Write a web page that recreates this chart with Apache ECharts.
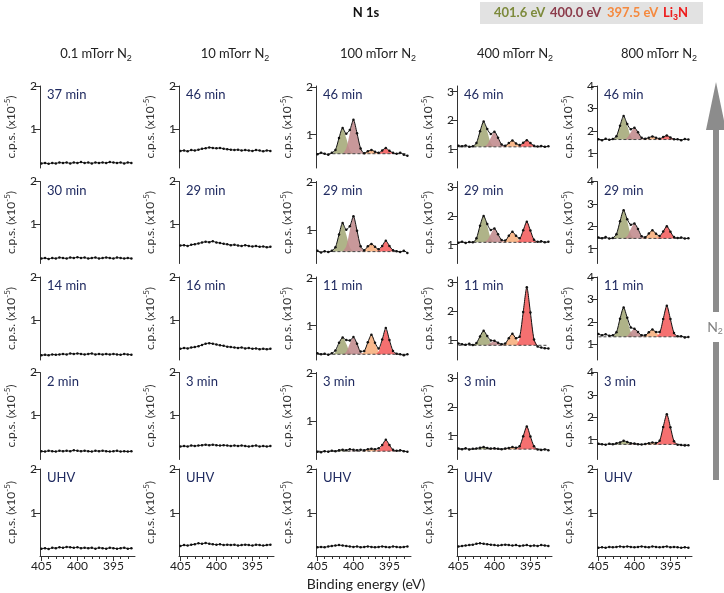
<!DOCTYPE html>
<html lang="en">
<head>
<meta charset="UTF-8">
<title>N 1s</title>
<style>
  html, body { margin: 0; padding: 0; background: #fff; }
  #main { width: 724px; height: 593px; }
</style>
</head>
<body>
<div id="main"></div>
<script src="https://cdn.jsdelivr.net/npm/echarts@6/dist/echarts.min.js"></script>
<script>
// binding energy grid (eV)
const energies = [405, 404.5, 404, 403.5, 403, 402.5, 402, 401.5, 401, 400.5, 400, 399.5, 399,
  398.5, 398, 397.5, 397, 396.5, 396, 395.5, 395, 394.5, 394, 393.5, 393, 392.5];

const pressures = ['0.1', '10', '100', '400', '800'];
const times = [
  ['37 min', '30 min', '14 min', '2 min', 'UHV'],
  ['46 min', '29 min', '16 min', '3 min', 'UHV'],
  ['46 min', '29 min', '11 min', '3 min', 'UHV'],
  ['46 min', '29 min', '11 min', '3 min', 'UHV'],
  ['46 min', '29 min', '11 min', '3 min', 'UHV']
];

// measured spectra, one row per panel (top to bottom)
const spec01 = [
  [0.20,0.21,0.19,0.21,0.20,0.22,0.21,0.22,0.20,0.22,0.21,0.23,0.21,0.22,0.20,0.22,0.21,0.22,0.21,0.23,0.22,0.21,0.22,0.20,0.22,0.21],
  [0.21,0.22,0.20,0.22,0.21,0.23,0.22,0.21,0.23,0.22,0.24,0.22,0.23,0.21,0.22,0.23,0.21,0.22,0.23,0.22,0.21,0.23,0.22,0.21,0.22,0.21],
  [0.18,0.19,0.18,0.20,0.19,0.20,0.21,0.20,0.22,0.21,0.22,0.21,0.20,0.21,0.22,0.20,0.21,0.20,0.21,0.20,0.21,0.20,0.19,0.21,0.20,0.19],
  [0.17,0.16,0.18,0.17,0.16,0.18,0.17,0.18,0.17,0.19,0.18,0.17,0.18,0.17,0.16,0.18,0.17,0.18,0.17,0.16,0.17,0.18,0.16,0.17,0.16,0.17],
  [0.19,0.20,0.18,0.21,0.20,0.22,0.21,0.23,0.22,0.21,0.22,0.20,0.21,0.20,0.21,0.19,0.21,0.20,0.19,0.21,0.20,0.19,0.20,0.21,0.19,0.20]
];
const spec10 = [
  [0.49,0.50,0.48,0.51,0.50,0.52,0.54,0.55,0.57,0.56,0.55,0.56,0.54,0.53,0.52,0.51,0.52,0.50,0.51,0.50,0.49,0.51,0.50,0.48,0.50,0.49],
  [0.51,0.52,0.50,0.53,0.54,0.56,0.58,0.60,0.59,0.61,0.58,0.57,0.55,0.54,0.52,0.53,0.51,0.50,0.52,0.50,0.49,0.50,0.48,0.49,0.47,0.48],
  [0.33,0.35,0.34,0.36,0.37,0.39,0.42,0.45,0.46,0.45,0.43,0.41,0.40,0.38,0.37,0.36,0.35,0.36,0.34,0.35,0.33,0.34,0.32,0.33,0.32,0.33],
  [0.28,0.29,0.28,0.30,0.29,0.30,0.31,0.32,0.31,0.32,0.31,0.30,0.31,0.30,0.29,0.30,0.29,0.30,0.29,0.28,0.29,0.30,0.28,0.29,0.28,0.29],
  [0.25,0.27,0.26,0.28,0.29,0.31,0.30,0.32,0.30,0.29,0.28,0.29,0.27,0.28,0.27,0.28,0.26,0.27,0.28,0.27,0.26,0.28,0.27,0.26,0.27,0.28]
];
const spec100 = [
  [0.59,0.62,0.60,0.58,0.62,0.68,0.93,1.14,1.02,1.10,1.31,1.03,0.71,0.61,0.65,0.68,0.64,0.62,0.67,0.72,0.66,0.62,0.60,0.62,0.58,0.56],
  [0.57,0.53,0.56,0.54,0.57,0.64,0.91,1.15,1.01,1.08,1.29,0.99,0.66,0.58,0.66,0.71,0.65,0.60,0.67,0.78,0.67,0.58,0.56,0.54,0.57,0.52],
  [0.42,0.40,0.41,0.39,0.42,0.48,0.64,0.75,0.70,0.69,0.76,0.62,0.46,0.47,0.65,0.81,0.64,0.52,0.71,0.95,0.70,0.47,0.41,0.40,0.38,0.40],
  [0.36,0.35,0.37,0.36,0.38,0.37,0.39,0.40,0.39,0.41,0.40,0.39,0.40,0.39,0.41,0.42,0.41,0.43,0.50,0.61,0.50,0.40,0.38,0.39,0.37,0.36],
  [0.22,0.23,0.22,0.24,0.25,0.26,0.27,0.26,0.25,0.24,0.23,0.24,0.22,0.23,0.24,0.23,0.22,0.23,0.24,0.23,0.22,0.24,0.23,0.22,0.23,0.24]
];
const spec400 = [
  [1.12,1.10,1.13,1.08,1.10,1.21,1.62,1.96,1.70,1.53,1.61,1.40,1.16,1.12,1.21,1.30,1.20,1.14,1.22,1.31,1.21,1.12,1.09,1.11,1.08,1.10],
  [1.07,1.10,1.06,1.09,1.08,1.22,1.66,2.00,1.72,1.51,1.56,1.36,1.16,1.14,1.31,1.45,1.31,1.22,1.50,1.80,1.49,1.17,1.10,1.12,1.08,1.10],
  [0.88,0.86,0.84,0.87,0.83,0.90,1.13,1.33,1.14,0.99,0.98,0.91,0.86,0.88,1.07,1.22,1.07,1.12,1.98,2.84,1.96,1.02,0.78,0.74,0.72,0.71],
  [0.55,0.53,0.56,0.52,0.54,0.55,0.58,0.60,0.57,0.55,0.56,0.54,0.53,0.55,0.57,0.60,0.58,0.63,0.98,1.32,0.97,0.63,0.52,0.50,0.52,0.49],
  [0.24,0.25,0.26,0.27,0.28,0.30,0.31,0.30,0.29,0.28,0.27,0.26,0.27,0.28,0.27,0.26,0.27,0.25,0.26,0.27,0.25,0.26,0.25,0.27,0.26,0.25]
];
const spec800 = [
  [1.62,1.58,1.64,1.60,1.63,1.76,2.23,2.66,2.30,2.07,2.14,1.93,1.69,1.65,1.69,1.75,1.69,1.65,1.72,1.79,1.70,1.62,1.62,1.58,1.63,1.61],
  [1.50,1.47,1.52,1.45,1.48,1.65,2.22,2.72,2.32,2.07,2.12,1.88,1.56,1.51,1.68,1.82,1.67,1.57,1.77,2.00,1.76,1.52,1.48,1.50,1.45,1.47],
  [1.45,1.40,1.44,1.38,1.40,1.53,2.14,2.64,2.18,1.75,1.69,1.55,1.40,1.40,1.53,1.66,1.54,1.55,2.13,2.72,2.12,1.50,1.35,1.36,1.30,1.32],
  [0.82,0.80,0.78,0.82,0.80,0.84,0.88,0.95,0.90,0.84,0.83,0.80,0.79,0.81,0.84,0.87,0.85,0.95,1.57,2.14,1.56,0.93,0.78,0.76,0.74,0.75],
  [0.21,0.22,0.21,0.23,0.22,0.23,0.24,0.23,0.24,0.23,0.22,0.23,0.24,0.23,0.22,0.24,0.23,0.22,0.23,0.24,0.22,0.23,0.22,0.21,0.22,0.21]
];

// fitted components: centre (eV), then 5 values at centre +1, +0.5, 0, -0.5, -1 eV
const peakCenters = [401.5, 400.0, 397.5, 395.5];
const peakNames = ['401.6 eV', '400.0 eV', '397.5 eV', 'Li{sub|3}N'];

const base100 = [0.60, 0.55, 0.40, 0.37];
const green100 = [[0.68,0.93,1.13,0.93,0.68],[0.64,0.91,1.13,0.91,0.64],[0.45,0.62,0.75,0.62,0.45],[0.37,0.39,0.40,0.39,0.37]];
const rose100 = [[0.71,1.03,1.30,1.03,0.71],[0.66,1.00,1.27,1.00,0.66],[0.45,0.62,0.75,0.62,0.45],[0.37,0.38,0.39,0.38,0.37]];
const orange100 = [[0.61,0.65,0.68,0.65,0.61],[0.58,0.66,0.72,0.66,0.58],[0.46,0.65,0.81,0.65,0.46],[0.38,0.40,0.42,0.40,0.38]];
const li3n100 = [[0.61,0.66,0.71,0.66,0.61],[0.58,0.67,0.76,0.67,0.58],[0.46,0.70,0.92,0.70,0.46],[0.40,0.50,0.60,0.50,0.40]];

const base400 = [1.08, 1.08, 0.82, 0.53];
const green400 = [[1.21,1.62,1.95,1.62,1.21],[1.22,1.66,2.01,1.66,1.22],[0.90,1.13,1.32,1.13,0.90],[0.54,0.57,0.60,0.57,0.54]];
const rose400 = [[1.16,1.40,1.60,1.40,1.16],[1.15,1.37,1.55,1.37,1.15],[0.84,0.91,0.97,0.91,0.84],[0.53,0.55,0.56,0.55,0.53]];
const orange400 = [[1.11,1.21,1.29,1.21,1.11],[1.14,1.31,1.45,1.31,1.14],[0.88,1.07,1.22,1.07,0.88],[0.54,0.57,0.60,0.57,0.54]];
const li3n400 = [[1.11,1.21,1.31,1.21,1.11],[1.17,1.50,1.80,1.50,1.17],[1.06,1.98,2.82,1.98,1.06],[0.62,0.98,1.31,0.98,0.62]];

const base800 = [1.61, 1.46, 1.33, 0.79];
const green800 = [[1.76,2.23,2.61,2.23,1.76],[1.65,2.23,2.70,2.23,1.65],[1.53,2.14,2.63,2.14,1.53],[0.81,0.88,0.94,0.88,0.81]];
const rose800 = [[1.69,1.93,2.13,1.93,1.69],[1.56,1.88,2.13,1.88,1.56],[1.38,1.55,1.68,1.55,1.38],[0.80,0.82,0.84,0.82,0.80]];
const orange800 = [[1.63,1.68,1.73,1.68,1.63],[1.51,1.68,1.81,1.68,1.51],[1.38,1.53,1.66,1.53,1.38],[0.80,0.84,0.87,0.84,0.80]];
const li3n800 = [[1.63,1.71,1.79,1.71,1.63],[1.52,1.77,1.99,1.77,1.52],[1.50,2.13,2.71,2.13,1.50],[0.95,1.57,2.13,1.57,0.95]];

const xTicks = [405, 400, 395];
const xMinorTicks = [404, 403, 402, 401, 399, 398, 397, 396, 394, 393];
const yTicks = [[1, 2], [1, 2], [1, 2], [1, 2, 3], [1, 2, 3, 4]];

// ---- layout ----
const font = 'Lato, "Open Sans", sans-serif';
const fills = ['#a4a878', '#c08a8c', '#f7ae7c', '#f45c5c'];
const textColors = ['#7d8a3c', '#8c3b4b', '#f5893e', '#ee1c1c'];
const lefts = [40, 179, 316, 457, 597];
const tops = [86, 181.5, 277, 372.5, 469];
const heights = [82, 82, 83, 87, 87];
const W = 95;
const yMax = [2, 2, 2.02, 3.2, 4];
const yPx = [43, 43, 47.7, 28.7, 22.4]; // pixels per unit
const spectra = [spec01, spec10, spec100, spec400, spec800];
const peakSets = {2: [green100, rose100, orange100, li3n100], 3: [green400, rose400, orange400, li3n400], 4: [green800, rose800, orange800, li3n800]};
const bases = {2: base100, 3: base400, 4: base800};

const grids = [], xAxes = [], yAxes = [], series = [], graphics = [];
const minorAxes = [];

for (let r = 0; r < 5; r++) {
  for (let c = 0; c < 5; c++) {
    const gi = grids.length;
    const bottomRow = r === 4;
    const max = bottomRow ? 2 : yMax[c];
    const ppu = bottomRow ? 44 : yPx[c];
    const min = max - heights[r] / ppu;
    const ticks = bottomRow ? [1, 2] : yTicks[c];
    grids.push({left: lefts[c], top: tops[r], width: W, height: heights[r]});
    xAxes.push({
      gridIndex: gi, type: 'value', min: 392, max: 405.2, inverse: true, show: bottomRow,
      position: 'bottom',
      axisLine: {show: true, onZero: false, lineStyle: {color: '#333'}},
      axisTick: {show: true, length: 5, customValues: xTicks, lineStyle: {color: '#333'}},
      axisLabel: {customValues: xTicks, fontSize: 12, color: '#222', fontFamily: font, margin: 4},
      splitLine: {show: false}
    });
    if (bottomRow) {
      minorAxes.push({
        gridIndex: gi, type: 'value', min: 392, max: 405.2, inverse: true, position: 'bottom',
        axisLine: {show: false},
        axisTick: {show: true, length: 3, customValues: xMinorTicks, lineStyle: {color: '#333'}},
        axisLabel: {show: false}, splitLine: {show: false}
      });
    }
    yAxes.push({
      gridIndex: gi, type: 'value', min: min, max: max,
      axisLine: {show: true, lineStyle: {color: '#333'}},
      axisTick: {show: true, length: 6, customValues: ticks, lineStyle: {color: '#333'}},
      axisLabel: {customValues: ticks, fontSize: 12, color: '#222', fontFamily: font, margin: 3},
      splitLine: {show: false},
      name: 'c.p.s. (x10{sup|-5})', nameLocation: 'middle', nameGap: 21, nameRotate: 90,
      nameTextStyle: {
        fontSize: 12, color: '#333', fontFamily: font, lineHeight: 16,
        rich: {sup: {fontSize: 8, color: '#333', fontFamily: font, verticalAlign: 'top', lineHeight: 16}}
      }
    });

    // fitted components and baseline
    if (c >= 2 && r < 4) {
      const b = bases[c][r];
      peakSets[c].forEach((set, k) => {
        const vals = set[r];
        const ctr = peakCenters[k];
        const data = [[ctr + 1.5, b]];
        vals.forEach((v, j) => data.push([ctr + 1 - j * 0.5, v]));
        data.push([ctr - 1.5, b]);
        series.push({
          type: 'line', xAxisIndex: gi, yAxisIndex: gi, data: data,
          symbol: 'none', smooth: 0.35, silent: true, z: 2,
          lineStyle: {width: 0, opacity: 0},
          areaStyle: {origin: b, color: fills[k], opacity: 0.88}
        });
      });
      series.push({
        type: 'line', xAxisIndex: gi, yAxisIndex: gi,
        data: [[energies[0], b], [energies[energies.length - 1], b]],
        symbol: 'none', silent: true, z: 3,
        lineStyle: {color: '#444', width: 1, type: [3, 2]}
      });
    }

    series.push({
      type: 'line', xAxisIndex: gi, yAxisIndex: gi,
      data: energies.map((e, i) => [e, spectra[c][r][i]]),
      symbol: 'circle', symbolSize: 2.5, showSymbol: true, smooth: 0.25, z: 4,
      itemStyle: {color: '#111'},
      lineStyle: {color: '#111', width: 1}
    });

    graphics.push({
      type: 'text', x: lefts[c] + 7, y: tops[r] + 9,
      style: {text: times[c][r], fill: '#1f2a60', font: '13px ' + font, textVerticalAlign: 'middle'}
    });
  }
}

const headerX = [96, 235, 378, 515, 659];
pressures.forEach((p, c) => {
  graphics.push({
    type: 'text', x: headerX[c], y: 54,
    style: {
      text: p + ' mTorr N{sub|2}', fill: '#222', font: '13px ' + font, lineHeight: 18,
      textAlign: 'center', textVerticalAlign: 'middle',
      rich: {sub: {fontSize: 9, verticalAlign: 'bottom', lineHeight: 18, fill: '#222'}}
    }
  });
});

// title and colour key
graphics.push({type: 'text', x: 366, y: 13, style: {text: 'N 1s', fill: '#111', font: 'bold 13px ' + font, textAlign: 'center', textVerticalAlign: 'middle'}});
graphics.push({type: 'rect', shape: {x: 480, y: 2, width: 223, height: 22}, style: {fill: '#e2e2e2'}});
const keyX = [494, 550, 607, 663];
peakNames.forEach((n, k) => {
  graphics.push({
    type: 'text', x: keyX[k], y: 13,
    style: {
      text: n, fill: textColors[k], font: 'bold 13px ' + font, lineHeight: 18,
      textVerticalAlign: 'middle',
      rich: {sub: {fontSize: 9, fontWeight: 'bold', verticalAlign: 'bottom', lineHeight: 18, fill: textColors[k]}}
    }
  });
});

graphics.push({type: 'text', x: 366, y: 584, style: {text: 'Binding energy (eV)', fill: '#222', font: '14px ' + font, textAlign: 'center', textVerticalAlign: 'middle'}});

// pressure arrow
graphics.push({type: 'rect', shape: {x: 713, y: 120, width: 6, height: 360}, style: {fill: '#8c8c8c'}});
graphics.push({type: 'polygon', shape: {points: [[716, 82], [706, 130], [726, 130]]}, style: {fill: '#8c8c8c'}});
graphics.push({type: 'rect', shape: {x: 704, y: 312, width: 20, height: 30}, style: {fill: '#fff'}});
graphics.push({
  type: 'text', x: 715, y: 327,
  style: {
    text: 'N{sub|2}', fill: '#808080', font: '14px ' + font, lineHeight: 18,
    textAlign: 'center', textVerticalAlign: 'middle',
    rich: {sub: {fontSize: 9, verticalAlign: 'bottom', lineHeight: 18, fill: '#808080'}}
  }
});

const chart = echarts.init(document.getElementById('main'));
chart.setOption({
  animation: false,
  backgroundColor: '#fff',
  grid: grids,
  xAxis: xAxes.concat(minorAxes),
  yAxis: yAxes,
  series: series,
  graphic: graphics
});
</script>
</body>
</html>
